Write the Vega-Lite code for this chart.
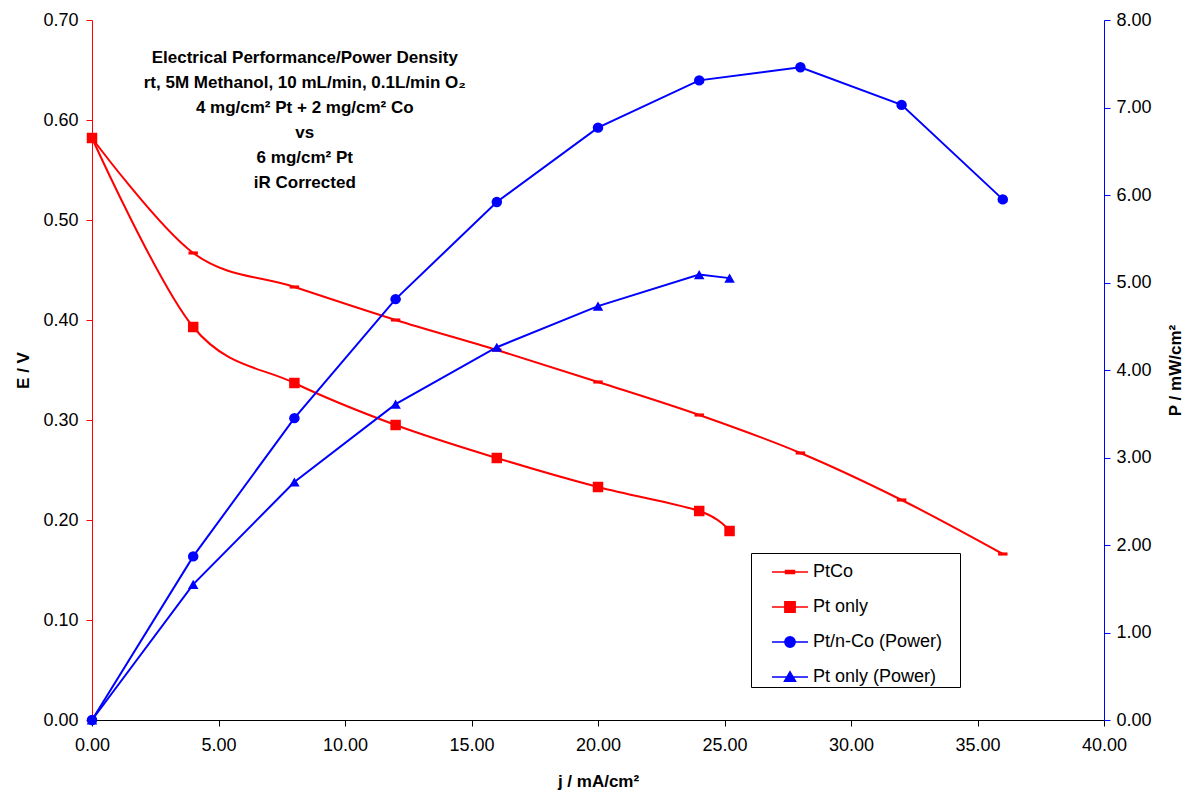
{
  "$schema": "https://vega.github.io/schema/vega-lite/v6.json",
  "width": 1012,
  "height": 700,
  "autosize": {"type": "none"},
  "padding": {"left": 92, "top": 20, "right": 81, "bottom": 73},
  "background": "white",
  "config": {
    "view": {"stroke": null},
    "font": "Liberation Sans",
    "axis": {
      "grid": false,
      "labelFont": "Liberation Sans",
      "labelFontSize": 18,
      "labelColor": "black",
      "labelFlush": false,
      "labelOverlap": false,
      "titleFont": "Liberation Sans",
      "titleFontSize": 17,
      "titleFontWeight": "bold",
      "titleColor": "black",
      "tickSize": 6,
      "domainWidth": 1,
      "tickWidth": 1
    },
    "legend": {
      "orient": "none",
      "legendX": 659,
      "legendY": 533,
      "padding": 1,
      "strokeColor": "black",
      "fillColor": "white",
      "symbolSize": 1156,
      "symbolOffset": 20,
      "labelOffset": 5,
      "rowPadding": 8,
      "symbolStrokeWidth": 1.6,
      "symbolOpacity": 1,
      "labelFont": "Liberation Sans",
      "labelFontSize": 18,
      "labelColor": "black",
      "titleOrient": "right",
      "titlePadding": 17,
      "titleFontSize": 4
    }
  },
  "datasets": {
    "volt": [
      {"j": 0, "series": "PtCo", "E": 0.582},
      {"j": 4, "series": "PtCo", "E": 0.467},
      {"j": 8, "series": "PtCo", "E": 0.433},
      {"j": 12, "series": "PtCo", "E": 0.400},
      {"j": 16, "series": "PtCo", "E": 0.370},
      {"j": 20, "series": "PtCo", "E": 0.338},
      {"j": 24, "series": "PtCo", "E": 0.305},
      {"j": 28, "series": "PtCo", "E": 0.267},
      {"j": 32, "series": "PtCo", "E": 0.220},
      {"j": 36, "series": "PtCo", "E": 0.166},
      {"j": 0, "series": "Pt only", "E": 0.582},
      {"j": 4, "series": "Pt only", "E": 0.393},
      {"j": 8, "series": "Pt only", "E": 0.337},
      {"j": 12, "series": "Pt only", "E": 0.295},
      {"j": 16, "series": "Pt only", "E": 0.262},
      {"j": 20, "series": "Pt only", "E": 0.233},
      {"j": 24, "series": "Pt only", "E": 0.209},
      {"j": 25.2, "series": "Pt only", "E": 0.189}
    ],
    "power": [
      {"j": 0, "series": "Pt/n-Co (Power)", "P": 0},
      {"j": 4, "series": "Pt/n-Co (Power)", "P": 1.87},
      {"j": 8, "series": "Pt/n-Co (Power)", "P": 3.45},
      {"j": 12, "series": "Pt/n-Co (Power)", "P": 4.81},
      {"j": 16, "series": "Pt/n-Co (Power)", "P": 5.92},
      {"j": 20, "series": "Pt/n-Co (Power)", "P": 6.77},
      {"j": 24, "series": "Pt/n-Co (Power)", "P": 7.31},
      {"j": 28, "series": "Pt/n-Co (Power)", "P": 7.46},
      {"j": 32, "series": "Pt/n-Co (Power)", "P": 7.03},
      {"j": 36, "series": "Pt/n-Co (Power)", "P": 5.95},
      {"j": 0, "series": "Pt only (Power)", "P": 0},
      {"j": 4, "series": "Pt only (Power)", "P": 1.55},
      {"j": 8, "series": "Pt only (Power)", "P": 2.72},
      {"j": 12, "series": "Pt only (Power)", "P": 3.61},
      {"j": 16, "series": "Pt only (Power)", "P": 4.26},
      {"j": 20, "series": "Pt only (Power)", "P": 4.73},
      {"j": 24, "series": "Pt only (Power)", "P": 5.09},
      {"j": 25.2, "series": "Pt only (Power)", "P": 5.05}
    ]
  },
  "layer": [
    {
      "data": {"name": "volt"},
      "layer": [
        {
          "mark": {"type": "line", "color": "#ff0000", "strokeWidth": 2, "interpolate": "cardinal", "tension": 0},
          "encoding": {
            "x": {"field": "j", "type": "quantitative", "scale": {"domain": [0, 40], "nice": false},
              "axis": {"title": "j / mA/cm²", "format": ".2f", "values": [0, 5, 10, 15, 20, 25, 30, 35, 40], "domainColor": "black", "tickColor": "black", "labelPadding": 10, "titlePadding": 19}},
            "y": {"field": "E", "type": "quantitative", "scale": {"domain": [0, 0.7], "nice": false},
              "axis": {"title": "E / V", "format": ".2f", "values": [0, 0.1, 0.2, 0.3, 0.4, 0.5, 0.6, 0.7], "domainColor": "#ff0000", "tickColor": "#ff0000", "labelPadding": 8, "titlePadding": 10}},
            "detail": {"field": "series"}
          }
        },
        {
          "mark": {"type": "point", "filled": true, "size": 110, "opacity": 1},
          "encoding": {
            "x": {"field": "j", "type": "quantitative"},
            "y": {"field": "E", "type": "quantitative",
              "axis": {"title": "E / V", "format": ".2f", "values": [0, 0.1, 0.2, 0.3, 0.4, 0.5, 0.6, 0.7], "domainColor": "#ff0000", "tickColor": "#ff0000", "labelPadding": 8, "titlePadding": 10}},
            "color": {"field": "series", "type": "nominal",
              "scale": {"domain": ["PtCo", "Pt only", "Pt/n-Co (Power)", "Pt only (Power)"], "range": ["#ff0000", "#ff0000", "#0000ff", "#0000ff"]},
              "legend": null},
            "shape": {"field": "series", "type": "nominal",
              "scale": {"domain": ["PtCo", "Pt only", "Pt/n-Co (Power)", "Pt only (Power)"], "range": ["M-0.9,-0.3L0.9,-0.3L0.9,0.3L-0.9,0.3Z", "square", "circle", "triangle-up"]},
              "legend": null}
          }
        },
        {
          "data": {"values": [{"note": ["Electrical Performance/Power Density", "rt, 5M Methanol, 10 mL/min, 0.1L/min O₂", "4 mg/cm² Pt + 2 mg/cm² Co", "vs", "6 mg/cm² Pt", "iR Corrected"]}]},
          "mark": {"type": "text", "font": "Liberation Sans", "fontSize": 17, "fontWeight": "bold", "color": "black", "align": "center", "baseline": "alphabetic", "lineHeight": 25},
          "encoding": {
            "x": {"datum": 8.41, "type": "quantitative"},
            "y": {"datum": 0.657, "type": "quantitative",
              "axis": {"title": "E / V", "format": ".2f", "values": [0, 0.1, 0.2, 0.3, 0.4, 0.5, 0.6, 0.7], "domainColor": "#ff0000", "tickColor": "#ff0000", "labelPadding": 8, "titlePadding": 10}},
            "text": {"field": "note"}
          }
        }
      ]
    },
    {
      "data": {"name": "power"},
      "layer": [
        {
          "mark": {"type": "line", "color": "#0000ff", "strokeWidth": 2},
          "encoding": {
            "x": {"field": "j", "type": "quantitative"},
            "y": {"field": "P", "type": "quantitative", "scale": {"domain": [0, 8], "nice": false},
              "axis": {"orient": "right", "title": "P / mW/cm²", "titleAngle": 270, "format": ".2f", "values": [0, 1, 2, 3, 4, 5, 6, 7, 8], "domainColor": "#0000ff", "tickColor": "#0000ff", "labelPadding": 6, "titlePadding": 33}},
            "detail": {"field": "series"}
          }
        },
        {
          "mark": {"type": "point", "filled": true, "size": 110, "opacity": 1},
          "encoding": {
            "x": {"field": "j", "type": "quantitative"},
            "y": {"field": "P", "type": "quantitative",
              "axis": {"orient": "right", "title": "P / mW/cm²", "titleAngle": 270, "format": ".2f", "values": [0, 1, 2, 3, 4, 5, 6, 7, 8], "domainColor": "#0000ff", "tickColor": "#0000ff", "labelPadding": 6, "titlePadding": 33}},
            "color": {"field": "series", "type": "nominal",
              "scale": {"domain": ["PtCo", "Pt only", "Pt/n-Co (Power)", "Pt only (Power)"], "range": ["#ff0000", "#ff0000", "#0000ff", "#0000ff"]},
              "legend": null},
            "shape": {"field": "series", "type": "nominal",
              "scale": {"domain": ["PtCo", "Pt only", "Pt/n-Co (Power)", "Pt only (Power)"], "range": ["M-0.9,-0.3L0.9,-0.3L0.9,0.3L-0.9,0.3Z", "square", "circle", "triangle-up"]},
              "legend": null}
          }
        }
      ]
    },
    {
      "data": {"name": "volt"},
      "transform": [{"filter": "datum.j < 0"}],
      "mark": {"type": "point", "filled": true, "opacity": 1, "strokeWidth": 1.6},
      "encoding": {
        "fill": {"field": "series", "type": "nominal",
          "scale": {"domain": ["PtCo", "Pt only", "Pt/n-Co (Power)", "Pt only (Power)"], "range": ["#ff0000", "#ff0000", "#0000ff", "#0000ff"]},
          "legend": {"title": "\u00a0"}},
        "stroke": {"field": "series", "type": "nominal",
          "scale": {"domain": ["PtCo", "Pt only", "Pt/n-Co (Power)", "Pt only (Power)"], "range": ["#ff0000", "#ff0000", "#0000ff", "#0000ff"]},
          "legend": {"title": "\u00a0"}},
        "shape": {"field": "series", "type": "nominal",
          "scale": {"domain": ["PtCo", "Pt only", "Pt/n-Co (Power)", "Pt only (Power)"], "range": [
            "M-1.06,0L1.06,0M-0.26,-0.09L0.26,-0.09L0.26,0.09L-0.26,0.09Z",
            "M-1.06,0L1.06,0M-0.3,-0.3L0.3,-0.3L0.3,0.3L-0.3,0.3Z",
            "M-1.06,0L1.06,0M-0.3,0A0.3,0.3 0 1,0 0.3,0A0.3,0.3 0 1,0 -0.3,0Z",
            "M-1.06,0L1.06,0M0,-0.3L0.32,0.24L-0.32,0.24Z"]},
          "legend": {"title": "\u00a0"}}
      }
    }
  ],
  "resolve": {"scale": {"y": "independent", "shape": "independent", "color": "independent", "fill": "independent", "stroke": "independent"}}
}
